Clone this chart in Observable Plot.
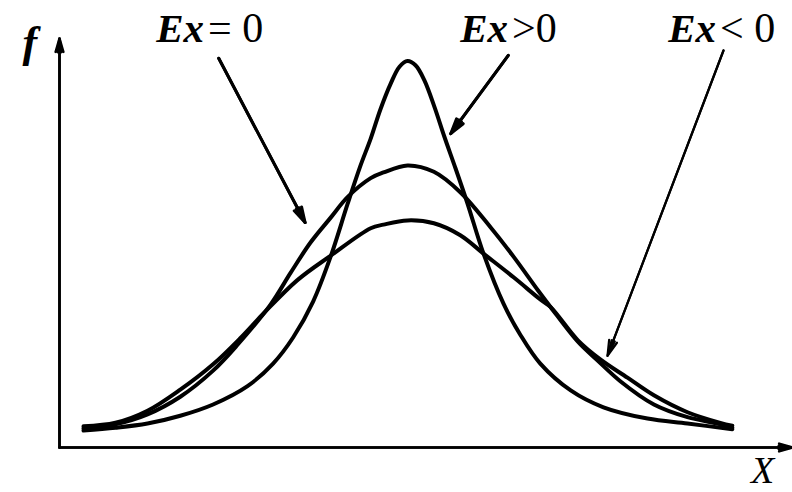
<!DOCTYPE html>
<html><head><meta charset="utf-8">
<script src="https://cdn.jsdelivr.net/npm/d3@7"></script>
<script src="https://cdn.jsdelivr.net/npm/@observablehq/plot@0.6"></script>
<style>html,body{margin:0;padding:0;background:#fff;} #chart svg{display:block;}</style>
</head><body><div id="chart"></div>
<script>
// Axis extents (data units)
const xDomain = [-4.35, 4.8125];
const yDomain = [0, 0.58];
const axisNames = ["X", "f"];

// Ex > 0 (tall, peaked curve)
const tallX = [-4.05, -3.65, -3.25, -2.84, -2.43, -2.0, -1.68, -1.43, -1.18, -0.96, -0.75, -0.59, -0.46, -0.34, -0.21, -0.1, 0, 0.1, 0.21, 0.34, 0.46, 0.6, 0.75, 0.95, 1.2, 1.41, 1.66, 2.04, 2.45, 3.0, 3.5, 4.06];
const tallF = [0.024, 0.028, 0.034, 0.045, 0.061, 0.087, 0.119, 0.156, 0.207, 0.271, 0.345, 0.399, 0.438, 0.479, 0.516, 0.540, 0.548, 0.542, 0.521, 0.482, 0.441, 0.396, 0.346, 0.275, 0.204, 0.160, 0.119, 0.081, 0.057, 0.041, 0.034, 0.026];

// Ex = 0 (normal curve)
const normalX = [-4.05, -3.65, -3.25, -2.84, -2.43, -2.13, -1.71, -1.46, -1.21, -0.96, -0.75, -0.46, -0.3, 0, 0.33, 0.66, 1.04, 1.33, 1.63, 1.79, 2.13, 2.38, 2.66, 3.08, 3.5, 3.91, 4.06];
const normalF = [0.027, 0.033, 0.047, 0.072, 0.109, 0.145, 0.203, 0.248, 0.291, 0.326, 0.355, 0.382, 0.390, 0.400, 0.391, 0.362, 0.312, 0.270, 0.223, 0.199, 0.150, 0.123, 0.094, 0.061, 0.043, 0.033, 0.028];

// Ex < 0 (flat curve)
const lowX = [-4.05, -3.65, -3.25, -2.84, -2.43, -2.09, -1.8, -1.38, -0.96, -0.46, -0.3, 0, 0.33, 0.66, 0.95, 1.33, 1.66, 1.79, 2.13, 2.41, 2.75, 3.08, 3.5, 3.91, 4.06];
const lowF = [0.030, 0.035, 0.052, 0.082, 0.118, 0.155, 0.190, 0.237, 0.272, 0.311, 0.316, 0.322, 0.318, 0.301, 0.275, 0.241, 0.210, 0.199, 0.152, 0.125, 0.099, 0.074, 0.050, 0.035, 0.031];

// Annotation labels and pointer arrows
const labelLeft = ["Ex", "Ex", "Ex"];
const labelRight = ["= 0", ">0", "< 0"];
const labelSplitX = [-2.53, 1.27, 3.87];
const labelF = [0.594, 0.594, 0.594];
const pointerFromX = [-2.36, 1.26, 3.95];
const pointerFromF = [0.552, 0.556, 0.563];
const pointerToX = [-1.28, 0.54, 2.50];
const pointerToF = [0.319, 0.445, 0.130];
const pointerWidth = [3, 3, 2];

const curves = [
  ...tallX.map((x, i) => ({series: "Ex>0", x, f: tallF[i]})),
  ...normalX.map((x, i) => ({series: "Ex=0", x, f: normalF[i]})),
  ...lowX.map((x, i) => ({series: "Ex<0", x, f: lowF[i]}))
];
const labels = labelLeft.map((l, i) => ({left: l, right: labelRight[i], x: labelSplitX[i], f: labelF[i]}));
const pointers = pointerFromX.map((x, i) => ({x1: x, y1: pointerFromF[i], x2: pointerToX[i], y2: pointerToF[i], w: pointerWidth[i]}));
const thick = pointers.filter(d => d.w === 3);
const thin = pointers.filter(d => d.w === 2);
const axes = [
  {x1: xDomain[0], y1: yDomain[0], x2: xDomain[1], y2: yDomain[0]},
  {x1: xDomain[0], y1: yDomain[0], x2: xDomain[0], y2: yDomain[1]}
];
const axisLabels = [
  {text: axisNames[0], x: 4.44, f: -0.033},
  {text: axisNames[1], x: -4.72, f: 0.574}
];

const serif = "'Liberation Serif', 'Times New Roman', serif";
const arrowOpts = {x1: "x1", y1: "y1", x2: "x2", y2: "y2", stroke: "#000"};
const chart = Plot.plot({
  width: 792, height: 492,
  marginLeft: 59, marginRight: 0, marginTop: 38, marginBottom: 45,
  x: {domain: xDomain, axis: null},
  y: {domain: yDomain, axis: null},
  style: {background: "#fff", fontFamily: serif, overflow: "visible"},
  marks: [
    Plot.arrow(axes, {...arrowOpts, strokeWidth: 2.6, headAngle: 32, headLength: 8}),
    Plot.arrow(axes, {...arrowOpts, strokeWidth: 2.6, headAngle: 14, headLength: 8}),
    Plot.line(curves, {x: "x", y: "f", z: "series", stroke: "#000", strokeWidth: 4, curve: "catmull-rom", strokeLinejoin: "round"}),
    Plot.arrow(thick, {...arrowOpts, strokeWidth: 3, headAngle: 30, headLength: 8}),
    Plot.arrow(thick, {...arrowOpts, strokeWidth: 3, headAngle: 12, headLength: 8}),
    Plot.arrow(thin, {...arrowOpts, strokeWidth: 2.2, headAngle: 30, headLength: 11}),
    Plot.arrow(thin, {...arrowOpts, strokeWidth: 2.2, headAngle: 12, headLength: 11}),
    Plot.text(labels, {x: "x", y: "f", text: "left", textAnchor: "end", dx: -1, fontSize: 41, fontWeight: "bold", fontStyle: "italic", fill: "#000", fontFamily: serif}),
    Plot.text(labels, {x: "x", y: "f", text: "right", textAnchor: "start", dx: 3, fontSize: 42, fill: "#000", fontFamily: serif}),
    Plot.text(axisLabels.slice(0, 1), {x: "x", y: "f", text: "text", fontSize: 38, fontStyle: "italic", fill: "#000", fontFamily: serif}),
    Plot.text(axisLabels.slice(1), {x: "x", y: "f", text: "text", fontSize: 44, fontStyle: "italic", fontWeight: "bold", fill: "#000", fontFamily: serif})
  ]
});
document.getElementById("chart").append(chart);
</script>
</body></html>
